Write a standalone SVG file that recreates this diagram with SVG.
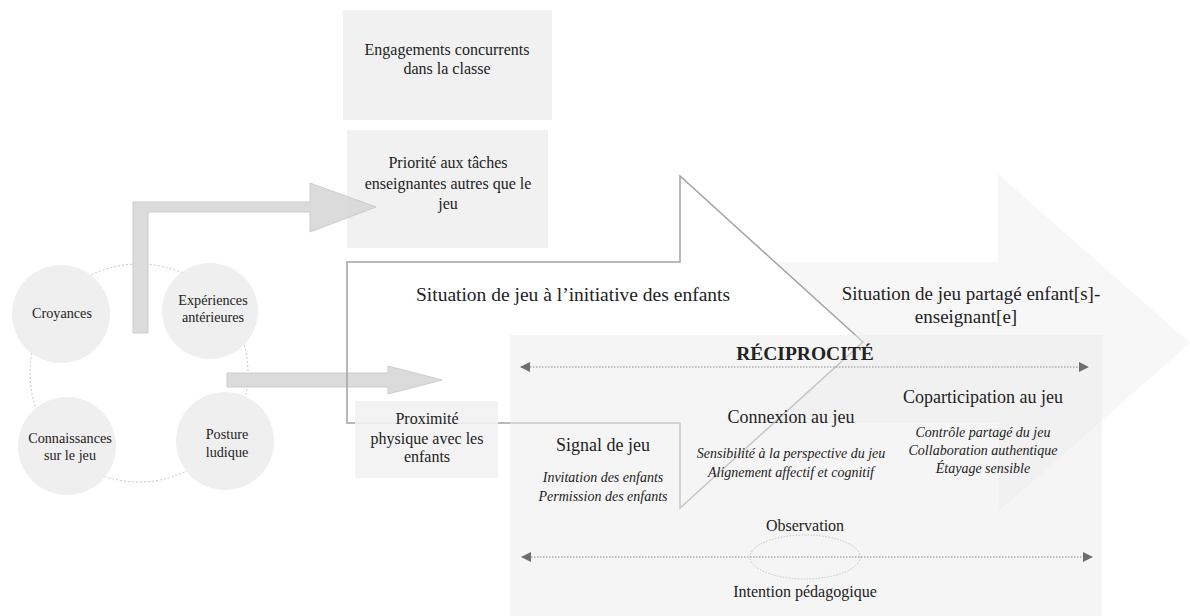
<svg xmlns="http://www.w3.org/2000/svg" width="1190" height="616" viewBox="0 0 1190 616" font-family="'Liberation Serif', 'Times New Roman', 'DejaVu Serif', serif">
<defs>
<style>
text{font-family:"Liberation Serif","Times New Roman","DejaVu Serif",serif;fill:#222;text-anchor:middle}
.c{fill:#efefef}
.bx{fill:#f1f1f1}
.t14{font-size:14.2px}
.t16{font-size:16px}
.t18{font-size:18px}
.t19{font-size:19px}
.it{font-size:14px;font-style:italic}
.ga{fill:#d9d9d9;stroke:#c9c9c9;stroke-width:1;opacity:0.92}
.dl{stroke:#8a8a8a;stroke-width:1;stroke-dasharray:1.5 1.5;fill:none}
</style>
<marker id="ah" viewBox="0 0 10 10" refX="9" refY="5" markerWidth="12" markerHeight="10" markerUnits="userSpaceOnUse" orient="auto-start-reverse">
<path d="M0,0 L10,5 L0,10 Z" fill="#6e6e6e"/>
</marker>
</defs>
<rect width="1190" height="616" fill="#fff"/>

<g id="shared-arrow">
<polygon points="775,262 998,262 998,174 1190,343 998,512 998,423 774,423 863,342" fill="#f7f7f7"/>
<text class="t19" x="971" y="300">Situation de jeu partagé enfant[s]-</text>
<text class="t19" x="966" y="323">enseignant[e]</text>
</g>

<g id="cycle">
<circle cx="139" cy="373" r="109" fill="none" stroke="#c6c6c6" stroke-width="1" stroke-dasharray="2 2"/>
</g>
<g id="croyances"><circle class="c" cx="61" cy="314" r="49"/><text class="t14" x="62" y="318">Croyances</text></g>
<g id="experiences"><circle class="c" cx="210" cy="311" r="48"/><text class="t14" x="213" y="305">Expériences</text><text class="t14" x="213" y="322">antérieures</text></g>
<g id="connaissances"><circle class="c" cx="67" cy="446" r="49"/><text class="t14" x="70" y="443">Connaissances</text><text class="t14" x="70" y="460">sur le jeu</text></g>
<g id="posture"><circle class="c" cx="225" cy="441" r="49"/><text class="t14" x="227" y="439">Posture</text><text class="t14" x="227" y="457">ludique</text></g>

<g id="engagements"><rect class="bx" x="343" y="10" width="209" height="110"/><text class="t16" x="447" y="55">Engagements concurrents</text><text class="t16" x="447" y="74">dans la classe</text></g>
<g id="priorite"><rect class="bx" x="347" y="130" width="201" height="118"/><text class="t16" x="448" y="168">Priorité aux tâches</text><text class="t16" x="448" y="189">enseignantes autres que le</text><text class="t16" x="448" y="209">jeu</text></g>

<g id="connectors">
<polygon class="ga" points="133,202 310,202 310,183 376,207 310,232 310,212 148,212 148,333 133,333"/>
<polygon class="ga" points="227,373 388,373 388,366 442,380 388,394 388,387 227,387"/>
</g>

<g id="initiative-arrow">
<polygon points="347,262 680,262 680,176 863,342 680,508 680,423 347,423" fill="none" stroke="#a3a3a3" stroke-width="1.5"/>
<text style="font-size:19.5px" x="573" y="301">Situation de jeu à l’initiative des enfants</text>
</g>

<g id="proximite"><rect x="355" y="401" width="143" height="77" fill="#f1f1f1" opacity="0.88"/><text class="t16" x="427" y="424">Proximité</text><text class="t16" x="427" y="444">physique avec les</text><text class="t16" x="427" y="462">enfants</text></g>

<g id="reciprocite">
<rect x="510" y="335" width="592" height="281" fill="#ebebeb" opacity="0.5"/>
<text x="805" y="360" style="font-size:19.5px;font-weight:bold">RÉCIPROCITÉ</text>
<line class="dl" x1="521" y1="367" x2="1088" y2="367" marker-start="url(#ah)" marker-end="url(#ah)"/>
</g>

<g id="signal"><text class="t18" x="603" y="451">Signal de jeu</text><text class="it" x="603" y="482">Invitation des enfants</text><text class="it" x="603" y="501">Permission des enfants</text></g>
<g id="connexion"><text class="t18" x="791" y="423">Connexion au jeu</text><text class="it" x="791" y="458">Sensibilité à la perspective du jeu</text><text class="it" x="791" y="477">Alignement affectif et cognitif</text></g>
<g id="coparticipation"><text class="t18" x="983" y="403">Coparticipation au jeu</text><text class="it" x="983" y="437">Contrôle partagé du jeu</text><text class="it" x="983" y="455">Collaboration authentique</text><text class="it" x="983" y="473">Étayage sensible</text></g>

<g id="observation">
<text class="t16" x="805" y="531">Observation</text>
<ellipse cx="805" cy="557" rx="55" ry="22" fill="none" stroke="#c4c4c4" stroke-width="1" stroke-dasharray="1.5 1.5"/>
<line class="dl" x1="522" y1="557" x2="1092" y2="557" marker-start="url(#ah)" marker-end="url(#ah)"/>
<text class="t16" x="805" y="597">Intention pédagogique</text>
</g>
</svg>
